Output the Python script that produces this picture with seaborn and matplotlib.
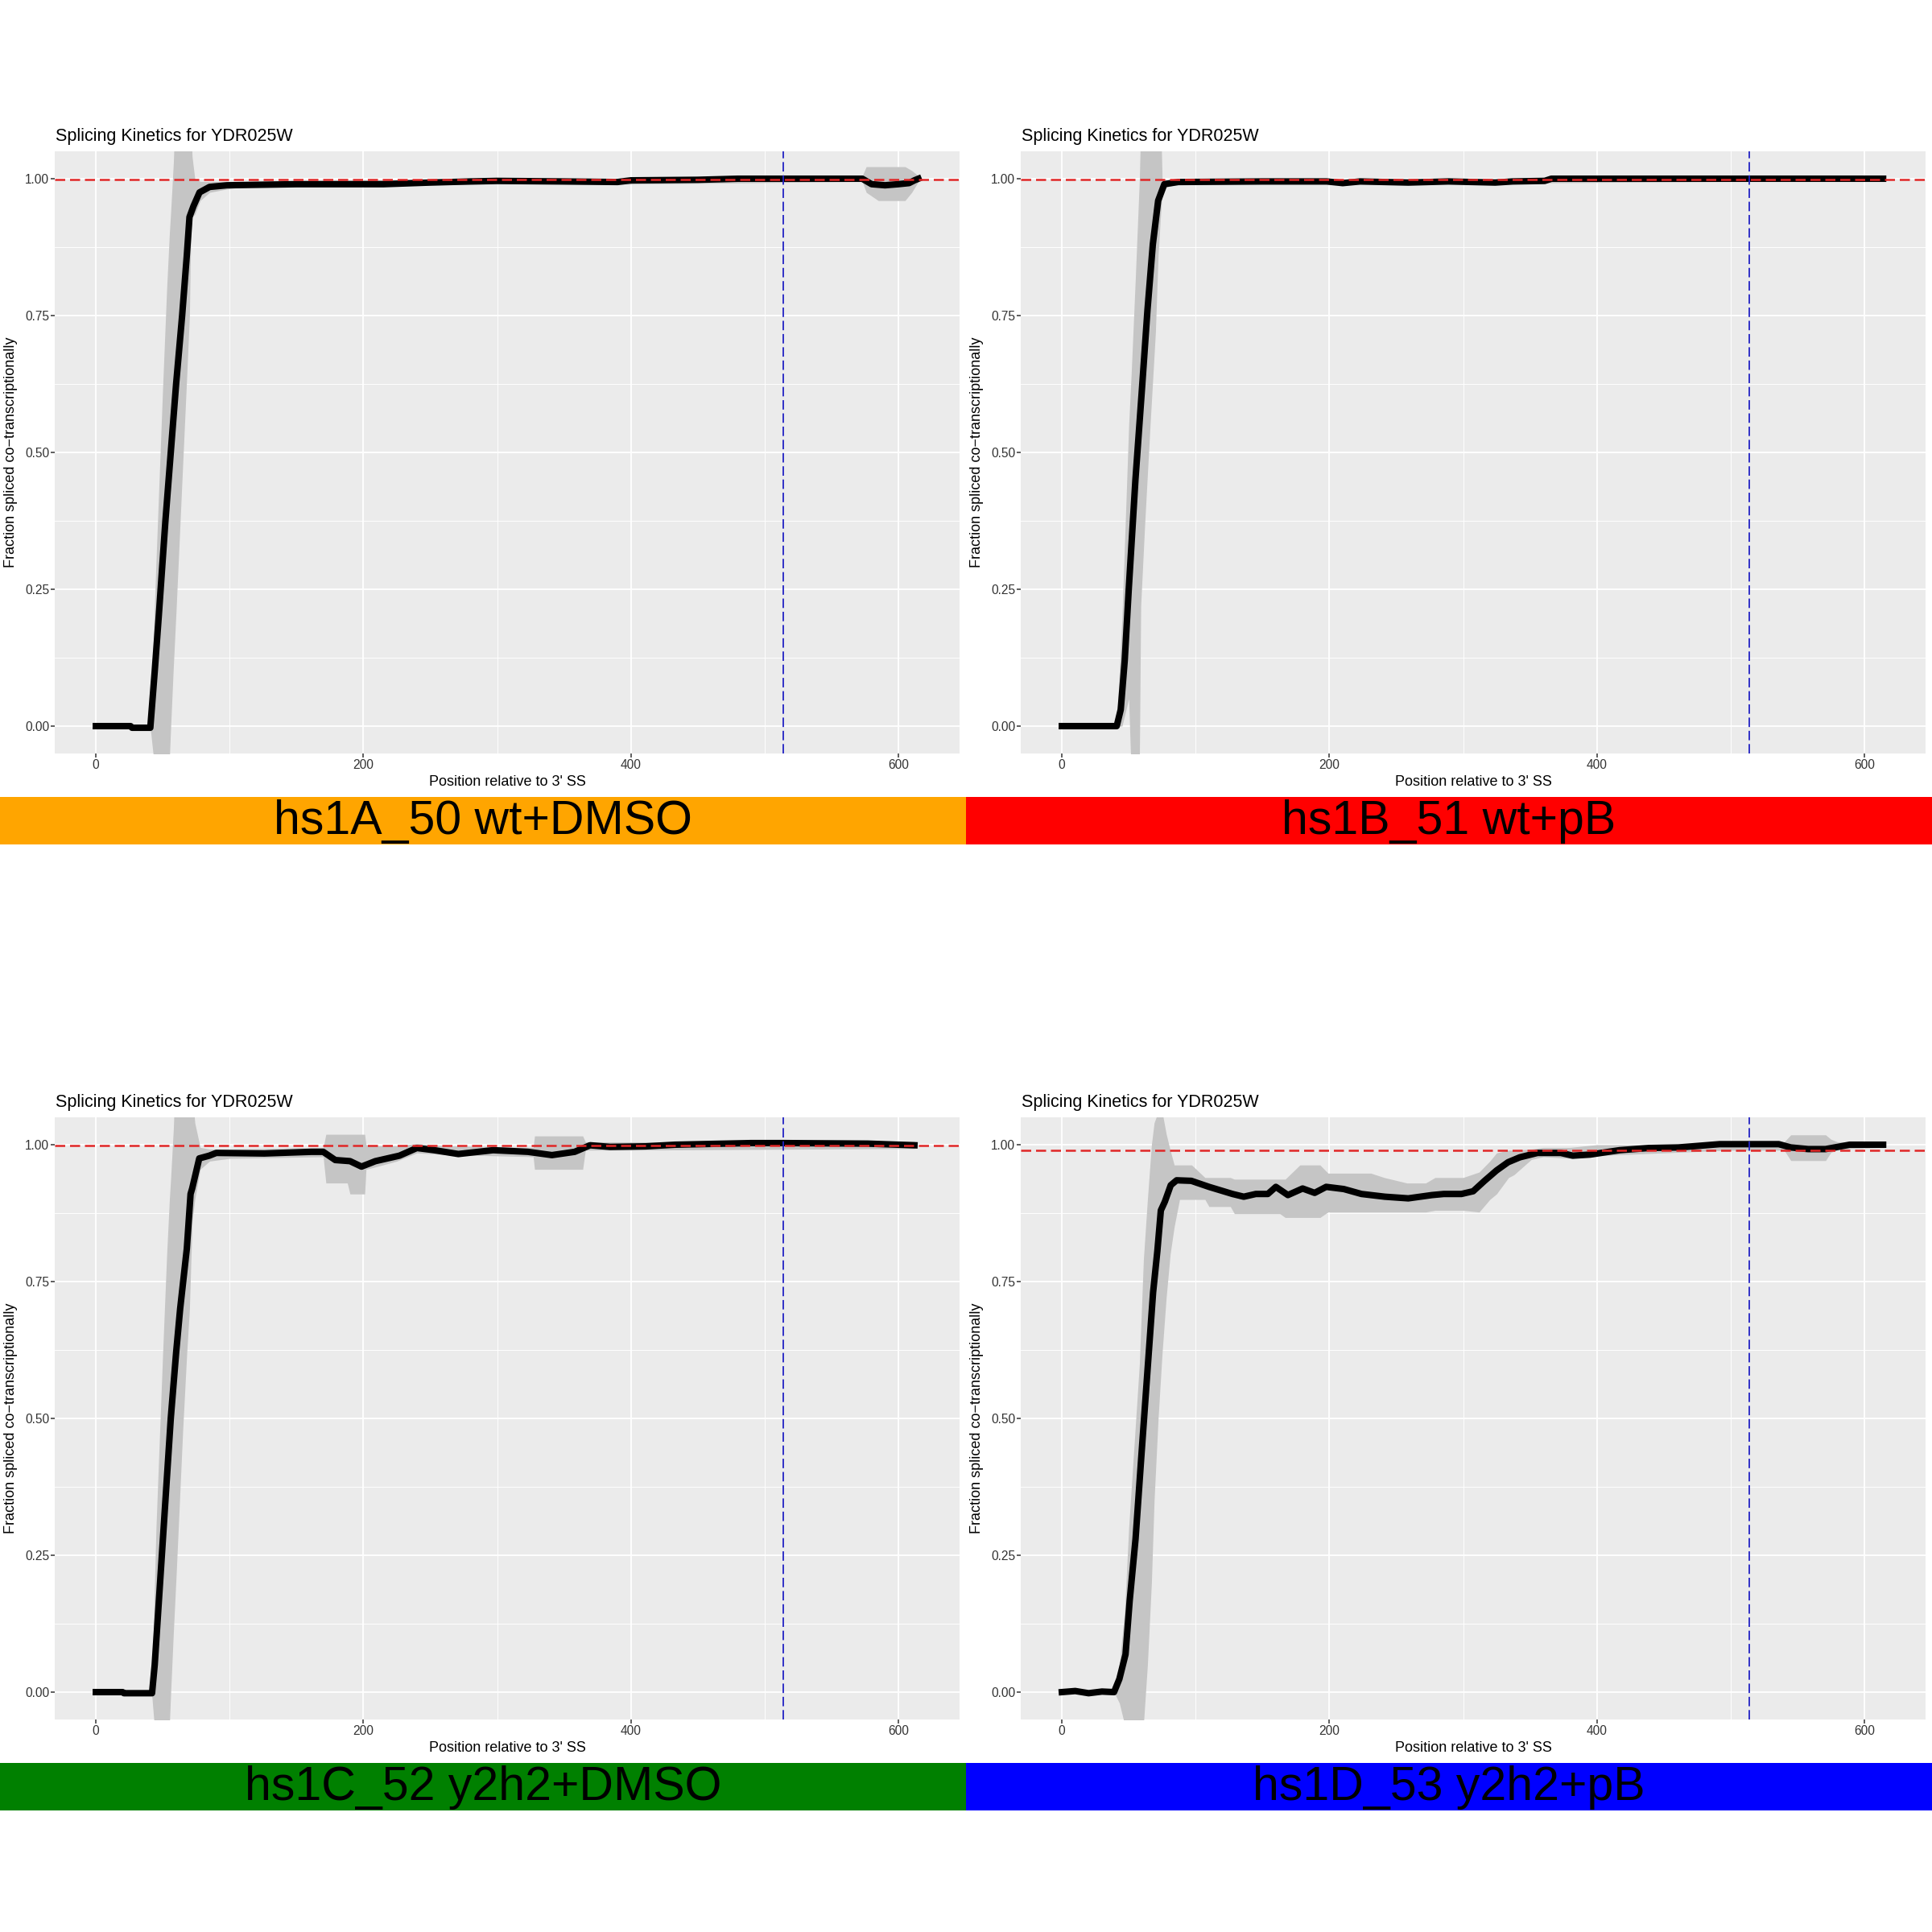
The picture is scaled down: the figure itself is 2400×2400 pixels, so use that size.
import matplotlib
matplotlib.use("Agg")
import matplotlib.pyplot as plt
import seaborn as sns
from matplotlib.patches import Rectangle

plt.rcParams['font.family'] = ['Liberation Sans', 'DejaVu Sans']

# ---------------- data ----------------
title_text = "Splicing Kinetics for YDR025W"
x_label = "Position relative to 3' SS"
y_label = "Fraction spliced co\u2212transcriptionally"
x_ticks = [0, 200, 400, 600]
x_tick_labels = ["0", "200", "400", "600"]
x_minor = [100, 300, 500]
y_ticks = [0.0, 0.25, 0.5, 0.75, 1.0]
y_tick_labels = ["0.00", "0.25", "0.50", "0.75", "1.00"]
y_minor = [0.125, 0.375, 0.625, 0.875]

sample_names = ["hs1A_50 wt+DMSO", "hs1B_51 wt+pB", "hs1C_52 y2h2+DMSO", "hs1D_53 y2h2+pB"]
band_colors = ["#FFA500", "#FF0000", "#008000", "#0000FF"]
mean_levels = [0.998, 0.999, 0.998, 0.990]
stop_position = 514

# panel A
a_x = [0, 26, 27, 40.7, 44, 47, 52, 56, 60, 64.5, 68, 70, 73, 77.5, 85, 98, 150, 200, 215, 250, 280, 300,
       350, 390, 400, 450, 480, 520, 573, 580, 590, 600, 608, 612, 615]
a_y = [0, 0, -0.003, -0.003, 0.1, 0.2, 0.375, 0.5, 0.625, 0.75, 0.86, 0.93, 0.95, 0.975, 0.985, 0.988, 0.99,
       0.99, 0.99, 0.993, 0.995, 0.996, 0.995, 0.994, 0.997, 0.998, 1.0, 1.0, 1.0, 0.99, 0.988, 0.99, 0.992,
       0.997, 1.0]
a_rx = [0, 40, 41, 45, 50, 53, 55, 56, 58, 59, 60, 65, 68, 70, 71, 72, 74, 78, 85, 100, 110, 300, 400, 573,
        576, 585, 605, 610, 615]
a_lo = [0, 0, -0.01, -0.1, -0.1, -0.1, -0.06, 0.0, 0.11, 0.16, 0.21, 0.48, 0.64, 0.75, 0.9, 0.93, 0.935, 0.96,
        0.975, 0.982, 0.985, 0.99, 0.99, 0.995, 0.975, 0.96, 0.96, 0.975, 0.995]
a_hi = [0, 0, 0.02, 0.3, 0.62, 0.8, 0.9, 0.94, 1.03, 1.1, 1.1, 1.1, 1.1, 1.1, 1.1, 1.04, 1.0, 0.995, 0.995,
        0.995, 0.995, 1.0, 1.0, 1.005, 1.022, 1.022, 1.022, 1.015, 1.005]

# panel B
b_x = [0, 20, 41, 44, 47, 50, 55, 60, 64, 68, 72, 76.6, 87, 150, 198, 210, 223, 259, 289, 324, 337, 361, 366,
       450, 550, 614]
b_y = [0, 0, 0, 0.03, 0.12, 0.25, 0.45, 0.62, 0.76, 0.88, 0.96, 0.99, 0.994, 0.995, 0.995, 0.992, 0.995, 0.993,
       0.995, 0.993, 0.995, 0.996, 1.0, 1.0, 1.0, 1.0]
b_rx = [0, 41, 45, 50, 52, 55, 58, 59, 62, 66, 70, 72, 74, 75, 78, 87, 200, 223, 614]
b_lo = [0, 0, 0.0, 0.05, -0.1, -0.1, -0.06, 0.22, 0.37, 0.55, 0.72, 0.86, 0.94, 0.975, 0.985, 0.99, 0.99, 0.99,
        0.997]
b_hi = [0, 0, 0.2, 0.55, 0.65, 0.82, 1.0, 1.1, 1.1, 1.1, 1.1, 1.1, 1.1, 1.0, 0.998, 0.998, 0.998, 0.998,
        1.003]

# panel C
c_x = [0, 20, 21, 42, 44, 48, 52, 56, 60, 63, 68, 70.8, 72, 77.3, 84.8, 90, 126, 161, 170, 179, 190, 198.6,
       209, 227, 240, 253, 271, 297, 323, 341, 358, 369.5, 384.5, 411, 433, 489.7, 515, 577, 612]
c_y = [0, 0, -0.002, -0.002, 0.05, 0.2, 0.35, 0.5, 0.62, 0.7, 0.81, 0.91, 0.92, 0.975, 0.98, 0.985, 0.984,
       0.987, 0.987, 0.972, 0.97, 0.96, 0.97, 0.98, 0.994, 0.99, 0.983, 0.99, 0.987, 0.981, 0.987, 0.999,
       0.996, 0.997, 1.0, 1.003, 1.003, 1.002, 0.999]
c_rx = [0, 41, 42, 45, 50, 53, 55, 56, 58, 59, 60, 65, 68, 70, 71, 72, 74, 78, 85, 100, 170, 172, 188, 190,
        201, 202, 210, 225, 240, 260, 327, 328, 364, 366, 400, 612]
c_lo = [0, 0, -0.01, -0.1, -0.1, -0.1, -0.06, 0.0, 0.11, 0.16, 0.21, 0.48, 0.62, 0.7, 0.78, 0.86, 0.9, 0.955,
        0.97, 0.975, 0.978, 0.93, 0.93, 0.91, 0.91, 0.955, 0.96, 0.97, 0.985, 0.982, 0.978, 0.955, 0.955,
        0.99, 0.99, 0.993]
c_hi = [0, 0, 0.02, 0.3, 0.62, 0.8, 0.9, 0.94, 1.03, 1.1, 1.1, 1.1, 1.1, 1.1, 1.1, 1.1, 1.04, 0.995,
        0.992, 0.992, 0.995, 1.019, 1.019, 1.019, 1.019, 1.0, 0.998, 0.998, 1.002, 0.998, 0.995, 1.016,
        1.016, 1.005, 1.005, 1.006]

# panel D
d_x = [0, 10, 20, 30, 39, 43, 47.6, 50.7, 55.1, 59.4, 63.8, 68.2, 71.4, 74, 77, 81.4, 85.8, 96.8, 110, 127.6,
       136, 145, 154, 160, 169, 180, 189, 197.6, 210.8, 224, 241.5, 259, 276.7, 285.5, 298.7, 307.5, 316, 325,
       333.6, 342.4, 355.6, 373, 382, 395, 417, 439, 461, 491.8, 505, 536, 545, 558, 571, 580, 589, 614]
d_y = [0, 0.002, -0.002, 0.001, 0, 0.024, 0.069, 0.167, 0.28, 0.43, 0.58, 0.73, 0.806, 0.88, 0.896, 0.926,
       0.935, 0.934, 0.923, 0.91, 0.905, 0.91, 0.91, 0.923, 0.908, 0.92, 0.912, 0.923, 0.919, 0.91, 0.905,
       0.902, 0.908, 0.91, 0.91, 0.915, 0.934, 0.953, 0.968, 0.977, 0.985, 0.985, 0.98, 0.982, 0.99, 0.994,
       0.995, 1.001, 1.001, 1.001, 0.995, 0.992, 0.992, 0.996, 1.0, 1.0]
d_rx = [0, 40, 43, 47, 50, 54, 58, 61, 64, 67, 69, 72, 75, 78, 81, 84, 88, 97, 107, 110, 126, 129, 163, 167,
        178, 193, 199, 210, 231, 241, 258, 272, 279, 300, 312, 320, 325, 334, 338, 351, 360, 380, 400, 450,
        500, 540, 545, 571, 575, 580, 590, 614]
d_lo = [0, -0.005, -0.02, -0.06, -0.1, -0.1, -0.1, -0.06, 0.05, 0.2, 0.35, 0.5, 0.62, 0.72, 0.8, 0.85, 0.9,
        0.9, 0.9, 0.887, 0.887, 0.874, 0.874, 0.867, 0.867, 0.867, 0.877, 0.877, 0.877, 0.877, 0.877, 0.877,
        0.88, 0.88, 0.877, 0.9, 0.91, 0.94, 0.945, 0.973, 0.978, 0.975, 0.98, 0.985, 0.99, 0.99, 0.971, 0.971,
        0.986, 0.99, 0.993, 0.995]
d_hi = [0, 0.005, 0.05, 0.15, 0.3, 0.45, 0.6, 0.79, 0.9, 1.0, 1.04, 1.06, 1.06, 1.02, 0.99, 0.963, 0.963,
        0.963, 0.94, 0.94, 0.94, 0.937, 0.937, 0.937, 0.963, 0.963, 0.948, 0.948, 0.948, 0.94, 0.93, 0.93,
        0.94, 0.94, 0.95, 0.97, 0.985, 0.99, 0.99, 0.992, 0.995, 0.995, 1.0, 1.0, 1.005, 1.005, 1.018, 1.018,
        1.01, 1.005, 1.005, 1.005]

panels = [
    (a_x, a_y, a_rx, a_lo, a_hi),
    (b_x, b_y, b_rx, b_lo, b_hi),
    (c_x, c_y, c_rx, c_lo, c_hi),
    (d_x, d_y, d_rx, d_lo, d_hi),
]

# ---------------- figure ----------------
W = H = 2400
fig = plt.figure(figsize=(24, 24), dpi=100)
fig.patch.set_facecolor("white")


def fx(px):
    return px / W


def fy(py):
    return 1 - py / H


for i, (lx, ly, rx, lo, hi) in enumerate(panels):
    col, row = i % 2, i // 2
    x0, y0 = col * 1200, row * 1200
    ax = fig.add_axes([fx(x0 + 68), fy(y0 + 936), 1124 / W, 748 / H])
    ax.set_facecolor("#EBEBEB")
    ax.set_xlim(-30.75, 645.75)
    ax.set_ylim(-0.05, 1.05)
    ax.set_xticks(x_ticks)
    ax.set_xticklabels(x_tick_labels)
    ax.set_yticks(y_ticks)
    ax.set_yticklabels(y_tick_labels)
    ax.set_xticks(x_minor, minor=True)
    ax.set_yticks(y_minor, minor=True)
    ax.grid(which="major", color="white", linewidth=1.3)
    ax.grid(which="minor", color="white", linewidth=0.65)
    ax.set_axisbelow(True)
    for s in ax.spines.values():
        s.set_visible(False)
    ax.tick_params(which="minor", length=0)
    ax.tick_params(which="major", length=3.5, width=1.1, color="#333333",
                   labelsize=11.2, labelcolor="#333333", pad=1.5)

    ax.fill_between(rx, lo, hi, color="#C5C5C5", linewidth=0, zorder=2)
    sns.lineplot(x=lx, y=ly, ax=ax, color="black", linewidth=5.8, estimator=None,
                 zorder=3)
    ax.axhline(mean_levels[i], color="#e02626", linewidth=1.8, dashes=(5, 2.4), zorder=4)
    ax.axvline(stop_position, color="#2222c4", linewidth=1.3, dashes=(6.5, 2.6), zorder=4)
    ax.set_xlabel("")
    ax.set_ylabel("")

    fig.text(fx(x0 + 69), fy(y0 + 175), title_text, fontsize=15.5, ha="left",
             va="baseline", color="black")
    fig.text(fx(x0 + 630), fy(y0 + 972), x_label, fontsize=13, ha="center",
             va="center", color="black")
    fig.text(fx(x0 + 14), fy(y0 + 562), y_label, fontsize=13, ha="center",
             va="center", rotation=90, color="black")

    fig.patches.append(Rectangle((fx(x0), fy(y0 + 1049)), 1200 / W, 59 / H,
                                 transform=fig.transFigure, facecolor=band_colors[i],
                                 edgecolor="none", zorder=0))
    fig.text(fx(x0 + 600), fy(y0 + 1036), sample_names[i], fontsize=42.5, ha="center",
             va="baseline", color="black")

fig.savefig("out.png", dpi=100, facecolor="white")
